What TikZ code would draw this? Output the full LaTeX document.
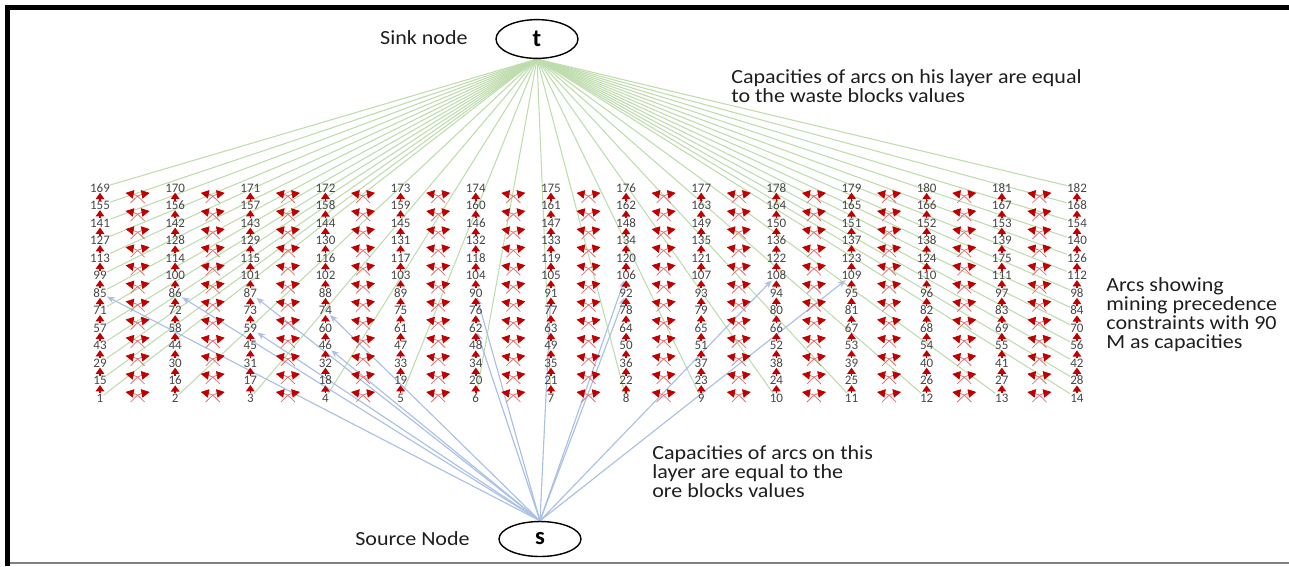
\documentclass[tikz,border=0pt]{standalone}
\usepackage{fontspec}
\setmainfont{Carlito}
\newfontfamily\notefont[FakeStretch=1.1]{Carlito}
\usetikzlibrary{arrows.meta,shapes.geometric,calc}
\definecolor{redarc}{RGB}{192,0,0}
\definecolor{greenarc}{RGB}{190,220,172}
\definecolor{bluearc}{RGB}{170,192,228}
\definecolor{numgray}{RGB}{70,70,70}
\definecolor{txt}{RGB}{30,30,30}
\pgfdeclarelayer{bg}
\pgfsetlayers{bg,main}
\tikzset{
  blk/.style={font=\fontsize{7.4}{8}\selectfont, text=numgray, inner sep=0pt},
  uparc/.style={-{Triangle[width=4.8pt,length=3.6pt]}, draw=redarc, line width=0.9pt},
  crossarc/.style={-{Triangle[width=4.8pt,length=4.6pt,color=redarc]}, draw=redarc!55, line width=0.45pt},
  waste/.style={draw=greenarc, line width=0.6pt},
  ore/.style={draw=bluearc, line width=0.65pt, -{Stealth[length=4.5pt,width=3.6pt]}},
  terminal/.style={ellipse, draw, line width=0.8pt, minimum width=1.64cm, minimum height=0.7cm, font=\bfseries\fontsize{14}{15}\selectfont},
  note/.style={font=\notefont\fontsize{11.4}{10.8}\selectfont, text=txt, align=left, inner sep=0pt}
}
\begin{document}
\begin{tikzpicture}[x=0.02cm,y=-0.02cm]
\useasboundingbox (0,0) rectangle (1289,566);
% frame
\draw[black, line width=2.8pt] (7.5,566) -- (7.5,7.5) -- (1289,7.5);
\draw[gray, line width=0.6pt] (10,563) -- (1289,563);
% terminals and labels
\node[terminal] (t) at (537,39) {t};
\node[terminal] (s) at (540,539) {s};
\node[note, anchor=east] (sinklbl) at (468,38) {Sink node};
\node[note, anchor=east] (srclbl) at (470,539) {Source Node};
% grid of blocks
\foreach \r in {0,...,12}{
  \foreach \c in {0,...,13}{
    \pgfmathtruncatemacro\n{\r*14+\c+1}
    \ifnum\n=125
      \node[blk] (n\n) at ({100+\c*75.15},{398-\r*17.5}) {175};
    \else
      \node[blk] (n\n) at ({100+\c*75.15},{398-\r*17.5}) {\n};
    \fi
  }
}
% vertical precedence arcs
\foreach \n in {1,...,168}{
  \pgfmathtruncatemacro\m{\n+14}
  \draw[uparc] (n\n) -- (n\m);
}
% diagonal precedence arcs (crossing pairs between neighbouring columns)
\foreach \c in {0,...,12}{
  \foreach \k in {0,...,11}{
    \pgfmathsetmacro\cx{137.6+\c*75.15}
    \pgfmathsetmacro\cy{394-\k*18.1}
    \draw[crossarc] ({\cx+7},{\cy+8}) .. controls ({\cx-1},{\cy}) .. ({\cx-12},{\cy-2});
    \draw[crossarc] ({\cx-7},{\cy+8}) .. controls ({\cx+1},{\cy}) .. ({\cx+12},{\cy-2});
  }
}
% arcs from sink / source
\begin{pgfonlayer}{bg}
\foreach \n in {1,15,...,169}{ \draw[waste] (t.south) -- (n\n); }
\foreach \n in {14,28,...,182}{ \draw[waste] (t.south) -- (n\n); }
\foreach \n in {2,...,13}{ \draw[waste] (t.south) -- (n\n); }
\foreach \n in {85,86,87,59,74,46,90,62,91,92,106,108,109}{ \draw[ore] (s.north) -- (n\n); }
\end{pgfonlayer}
% annotations
\node[note, anchor=north west] (waste) at (731,69) {Capacities of arcs on his layer are equal\\to the waste blocks values};
\node[note, anchor=north west] (prec) at (1106,277) {Arcs showing\\mining precedence\\constraints with 90\\M as capacities};
\node[note, anchor=north west] (ore) at (652,445) {Capacities of arcs on this\\layer are equal to the\\ore blocks values};
\end{tikzpicture}
\end{document}
